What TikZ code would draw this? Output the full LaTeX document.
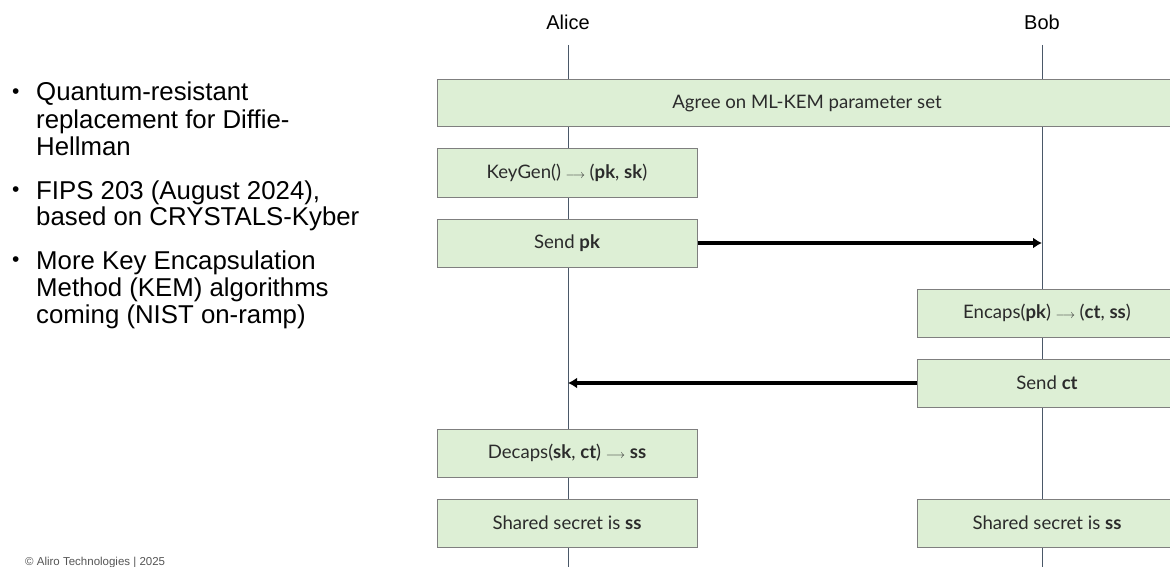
\documentclass[tikz,border=0pt]{standalone}
\usepackage{fontspec}
\setmainfont{Liberation Sans}
\newfontfamily\boxfont{Lato}
\usetikzlibrary{arrows.meta}
\definecolor{boxfill}{HTML}{DDEFD5}
\definecolor{boxline}{HTML}{7F7F7F}
\definecolor{lifecol}{HTML}{4A5868}
\definecolor{boxtext}{HTML}{2B2B2B}
\definecolor{copycol}{HTML}{555555}
\newcommand{\arr}{\hspace{0.25em}{\fontsize{13}{13}\selectfont$\longrightarrow$}\hspace{0.25em}}
\begin{document}
\begin{tikzpicture}[x=1pt,y=-1pt,
  stepbox/.style={draw=boxline, line width=1pt, fill=boxfill, minimum width=260pt,
    minimum height=48pt, inner sep=0pt, text=boxtext,
    font=\boxfont\fontsize{18.6}{22}\selectfont},
  life/.style={draw=lifecol, line width=1pt},
  msg/.style={draw=black, line width=3.2pt, -{Latex[length=9pt,width=11pt]}},
  actor/.style={font=\fontsize{20}{24}\selectfont, inner sep=0pt},
  btext/.style={font=\fontsize{25.8}{27}\selectfont, anchor=base west, inner sep=0pt, text=black},
  bdot/.style={font=\fontsize{21}{24}\selectfont, anchor=base west, inner sep=0pt, text=black},
  copyr/.style={font=\fontsize{11.5}{13}\selectfont, anchor=base west, inner sep=0pt, text=copycol}
]
\useasboundingbox (0,0) rectangle (1170,567);
\clip (0,0) rectangle (1170,567);

% actors and lifelines
\node[actor] (alice) at (568,22) {Alice};
\node[actor] (bob) at (1042,22) {Bob};
\coordinate (aTop) at (568,45);
\coordinate (aBot) at (568,570);
\coordinate (bTop) at (1042,45);
\coordinate (bBot) at (1042,570);
\draw[life] (aTop) -- (aBot);
\draw[life] (bTop) -- (bBot);

% boxes
\node[stepbox, minimum width=740pt, minimum height=47pt] (agree) at (807,103.5) {Agree on ML-KEM parameter set};
\node[stepbox] (keygen) at (567,173) {KeyGen()\arr(\textbf{pk}, \textbf{sk})};
\node[stepbox] (sendpk) at (567,243) {Send \textbf{pk}};
\node[stepbox] (encaps) at (1047,313) {Encaps(\textbf{pk})\arr(\textbf{ct}, \textbf{ss})};
\node[stepbox] (sendct) at (1047,383) {Send \textbf{ct}};
\node[stepbox] (decaps) at (567,453) {Decaps(\textbf{sk}, \textbf{ct})\arr\textbf{ss}};
\node[stepbox] (sharedA) at (567,523) {Shared secret is \textbf{ss}};
\node[stepbox] (sharedB) at (1047,523) {Shared secret is \textbf{ss}};

% messages
\draw[msg] (sendpk.east) -- (sendpk.east -| bBot);
\draw[msg] (sendct.west) -- (sendct.west -| aBot);

% bullets
\node[bdot] (b1) at (12,98.5) {•};
\node[btext] (l11) at (36,101) {Quantum-resistant};
\node[btext] (l12) at (36,128.5) {replacement for Diffie-};
\node[btext] (l13) at (36,156) {Hellman};
\node[bdot] (b2) at (12,196.5) {•};
\node[btext] (l21) at (36,199) {FIPS 203 (August 2024),};
\node[btext] (l22) at (36,225.5) {based on CRYSTALS-Kyber};
\node[bdot] (b3) at (12,266.5) {•};
\node[btext] (l31) at (36,269) {More Key Encapsulation};
\node[btext] (l32) at (36,296) {Method (KEM) algorithms};
\node[btext] (l33) at (36,323) {coming (NIST on-ramp)};

\node[copyr] (copy) at (25,565) {© Aliro Technologies | 2025};
\end{tikzpicture}
\end{document}
